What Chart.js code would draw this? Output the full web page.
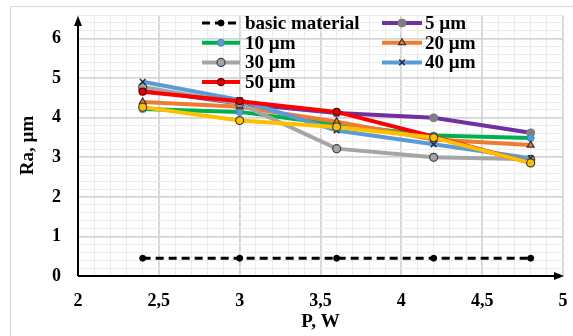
<!DOCTYPE html>
<html>
<head>
<meta charset="utf-8">
<script src="https://cdn.jsdelivr.net/npm/chart.js@4/dist/chart.umd.min.js"></script>
<style>
    html, body { margin: 0; padding: 0; background: #fff; }
    #wrap { width: 573px; height: 336px; }
</style>
</head>
<body>
<div id="wrap"><canvas id="myChart" width="573" height="336"></canvas></div>
<script>
// P, W
const powerValues = [2.4, 3.0, 3.6, 4.2, 4.8];

// Ra, µm
const basicMaterial = [0.45, 0.45, 0.45, 0.45, 0.45];
const ra5 = [4.7, 4.36, 4.12, 4.0, 3.62];
const ra10 = [4.22, 4.15, 3.83, 3.55, 3.49];
const ra20 = [4.4, 4.28, 3.9, 3.45, 3.31];
const ra30 = [4.78, 4.36, 3.22, 3.0, 2.95];
const ra40 = [4.91, 4.45, 3.68, 3.33, 2.98];
const ra50 = [4.66, 4.42, 4.15, 3.52, 2.86];
const raExtra = [4.27, 3.93, 3.77, 3.5, 2.86];

const xTicks = ['2', '2,5', '3', '3,5', '4', '4,5', '5'];
const yTicks = ['0', '1', '2', '3', '4', '5', '6'];

const FONT = '"Liberation Serif", "Times New Roman", serif';

const toPoints = (values) => values.map((v, i) => ({ x: powerValues[i], y: v }));

const makeSet = (label, values, color, marker, inLegend, order) => ({
    label: label,
    data: toPoints(values),
    borderColor: color,
    backgroundColor: color,
    borderWidth: 4,
    pointStyle: marker.style,
    pointRadius: marker.radius,
    pointBackgroundColor: marker.fill,
    pointBorderColor: marker.border,
    pointBorderWidth: marker.borderWidth,
    tension: 0,
    inLegend: inLegend,
    order: order,
});

const datasets = [
    Object.assign(makeSet('basic material', basicMaterial, '#000000',
        { style: 'circle', radius: 3, fill: '#000', border: '#000', borderWidth: 1 }, true, 10),
        { borderWidth: 3, borderDash: [8, 5] }),
    makeSet('5 µm', ra5, '#7030a0', { style: 'circle', radius: 4, fill: '#7f7f7f', border: '#7f7f7f', borderWidth: 1 }, true, 9),
    makeSet('10 µm', ra10, '#00b050', { style: 'circle', radius: 3.5, fill: '#5b9bd5', border: '#4a7fb8', borderWidth: 1 }, true, 8),
    makeSet('20 µm', ra20, '#ed7d31', { style: 'triangle', radius: 4, fill: '#ed7d31', border: '#333333', borderWidth: 1.2 }, true, 7),
    makeSet('30 µm', ra30, '#a5a5a5', { style: 'circle', radius: 4, fill: '#a5a5a5', border: '#404040', borderWidth: 1.2 }, true, 6),
    makeSet('40 µm', ra40, '#5b9bd5', { style: 'crossRot', radius: 4, fill: '#1f2a44', border: '#1f2a44', borderWidth: 1.5 }, true, 5),
    makeSet('50 µm', ra50, '#ff0000', { style: 'circle', radius: 3.5, fill: '#e00000', border: '#600000', borderWidth: 1.2 }, true, 4),
    makeSet('', raExtra, '#ffc000', { style: 'circle', radius: 4, fill: '#ffc000', border: '#404040', borderWidth: 1.2 }, false, 3),
];

/**
 * 外枠と軸の矢印を描画します。
 */
const framePlugin = {
    id: 'frame',
    beforeDraw: (chart) => {
        const ctx = chart.ctx;
        ctx.save();
        ctx.fillStyle = '#ffffff';
        ctx.fillRect(0, 0, chart.width, chart.height);
        ctx.strokeStyle = '#d9d9d9';
        ctx.lineWidth = 1;
        ctx.strokeRect(10.5, 6.5, chart.width, chart.height);
        ctx.restore();
    },
    afterDatasetsDraw: (chart) => {
        const ctx = chart.ctx;
        const a = chart.chartArea;
        ctx.save();
        ctx.strokeStyle = '#000';
        ctx.fillStyle = '#000';
        ctx.lineWidth = 2;
        ctx.beginPath();
        ctx.moveTo(a.left, a.bottom);
        ctx.lineTo(a.left, a.top + 6);
        ctx.moveTo(a.left, a.bottom);
        ctx.lineTo(a.right - 6, a.bottom);
        ctx.stroke();
        ctx.beginPath();
        ctx.moveTo(a.left, a.top + 1);
        ctx.lineTo(a.left - 4, a.top + 11);
        ctx.lineTo(a.left + 4, a.top + 11);
        ctx.closePath();
        ctx.fill();
        ctx.beginPath();
        ctx.moveTo(a.right + 1, a.bottom);
        ctx.lineTo(a.right - 9, a.bottom - 4);
        ctx.lineTo(a.right - 9, a.bottom + 4);
        ctx.closePath();
        ctx.fill();
        ctx.restore();
    },
};

/**
 * 2列の凡例を描画します。
 */
const legendPlugin = {
    id: 'twoColLegend',
    afterDraw: (chart) => {
        const ctx = chart.ctx;
        const cols = [{ x0: 202, x1: 240, tx: 245 }, { x0: 382, x1: 422, tx: 425 }];
        let n = 0;
        ctx.save();
        chart.data.datasets.forEach((ds) => {
            if (!ds.inLegend) {
                return;
            }
            const col = cols[n % 2];
            const y = 23 + Math.floor(n / 2) * 19.7;
            n++;

            ctx.strokeStyle = ds.borderColor;
            ctx.lineWidth = ds.borderWidth;
            ctx.setLineDash(ds.borderDash || []);
            ctx.beginPath();
            ctx.moveTo(col.x0, y);
            ctx.lineTo(col.x1, y);
            ctx.stroke();
            ctx.setLineDash([]);

            ctx.fillStyle = ds.pointBackgroundColor;
            ctx.strokeStyle = ds.pointBorderColor;
            ctx.lineWidth = ds.pointBorderWidth;
            Chart.helpers.drawPoint(ctx, {
                pointStyle: ds.pointStyle,
                radius: ds.pointRadius,
                borderWidth: ds.pointBorderWidth,
                rotation: 0,
            }, (col.x0 + col.x1) / 2, y);

            ctx.fillStyle = '#000';
            ctx.font = 'bold 19px ' + FONT;
            ctx.textBaseline = 'middle';
            ctx.textAlign = 'left';
            ctx.fillText(ds.label, col.tx, y + 1);
        });
        ctx.restore();
    },
};

const isMultiple = (v, step) => Math.abs(v / step - Math.round(v / step)) < 1e-6;

const createChart = () => {
    const config = {
        type: 'line',
        data: { datasets: datasets },
        options: {
            responsive: false,
            animation: false,
            layout: { padding: { left: 10, top: 15, right: 10, bottom: 0 } },
            plugins: {
                legend: { display: false },
                tooltip: { enabled: false },
            },
            scales: {
                x: {
                    type: 'linear',
                    min: 2,
                    max: 5,
                    afterFit: (scale) => {
                        scale.height = 60;
                        scale.paddingLeft = 0;
                        scale.paddingRight = 0;
                    },
                    border: { display: false },
                    grid: {
                        drawTicks: false,
                        color: (c) => isMultiple(c.tick.value, 0.5) ? '#d4d4d4' : '#ececec',
                        lineWidth: (c) => isMultiple(c.tick.value, 0.5) ? 1.8 : 1,
                    },
                    ticks: {
                        stepSize: 0.1,
                        autoSkip: false,
                        maxRotation: 0,
                        padding: 15,
                        color: '#000',
                        font: { family: FONT, size: 18, weight: 'bold' },
                        callback: (v) => isMultiple(v, 0.5) ? xTicks[Math.round((v - 2) * 2)] : '',
                    },
                    title: {
                        display: true,
                        text: 'P, W',
                        color: '#000',
                        font: { family: FONT, size: 19, weight: 'bold' },
                        padding: { top: 0, bottom: 3 },
                    },
                },
                y: {
                    min: 0,
                    max: 6.6,
                    afterFit: (scale) => {
                        scale.width = 68;
                        scale.paddingTop = 0;
                        scale.paddingBottom = 0;
                    },
                    border: { display: false },
                    grid: {
                        drawTicks: false,
                        color: (c) => isMultiple(c.tick.value, 1) ? '#d4d4d4' : '#ececec',
                        lineWidth: (c) => isMultiple(c.tick.value, 1) ? 1.8 : 1,
                    },
                    ticks: {
                        stepSize: 0.2,
                        autoSkip: false,
                        padding: 17,
                        color: '#000',
                        font: { family: FONT, size: 18, weight: 'bold' },
                        callback: (v) => (isMultiple(v, 1) && v <= 6) ? yTicks[Math.round(v)] : '',
                    },
                    title: {
                        display: true,
                        text: 'Ra, µm',
                        color: '#000',
                        font: { family: FONT, size: 19, weight: 'bold' },
                        padding: { top: 7, bottom: 0 },
                    },
                },
            },
        },
        plugins: [framePlugin, legendPlugin],
    };

    return new Chart(document.getElementById('myChart'), config);
};

createChart();
</script>
</body>
</html>
